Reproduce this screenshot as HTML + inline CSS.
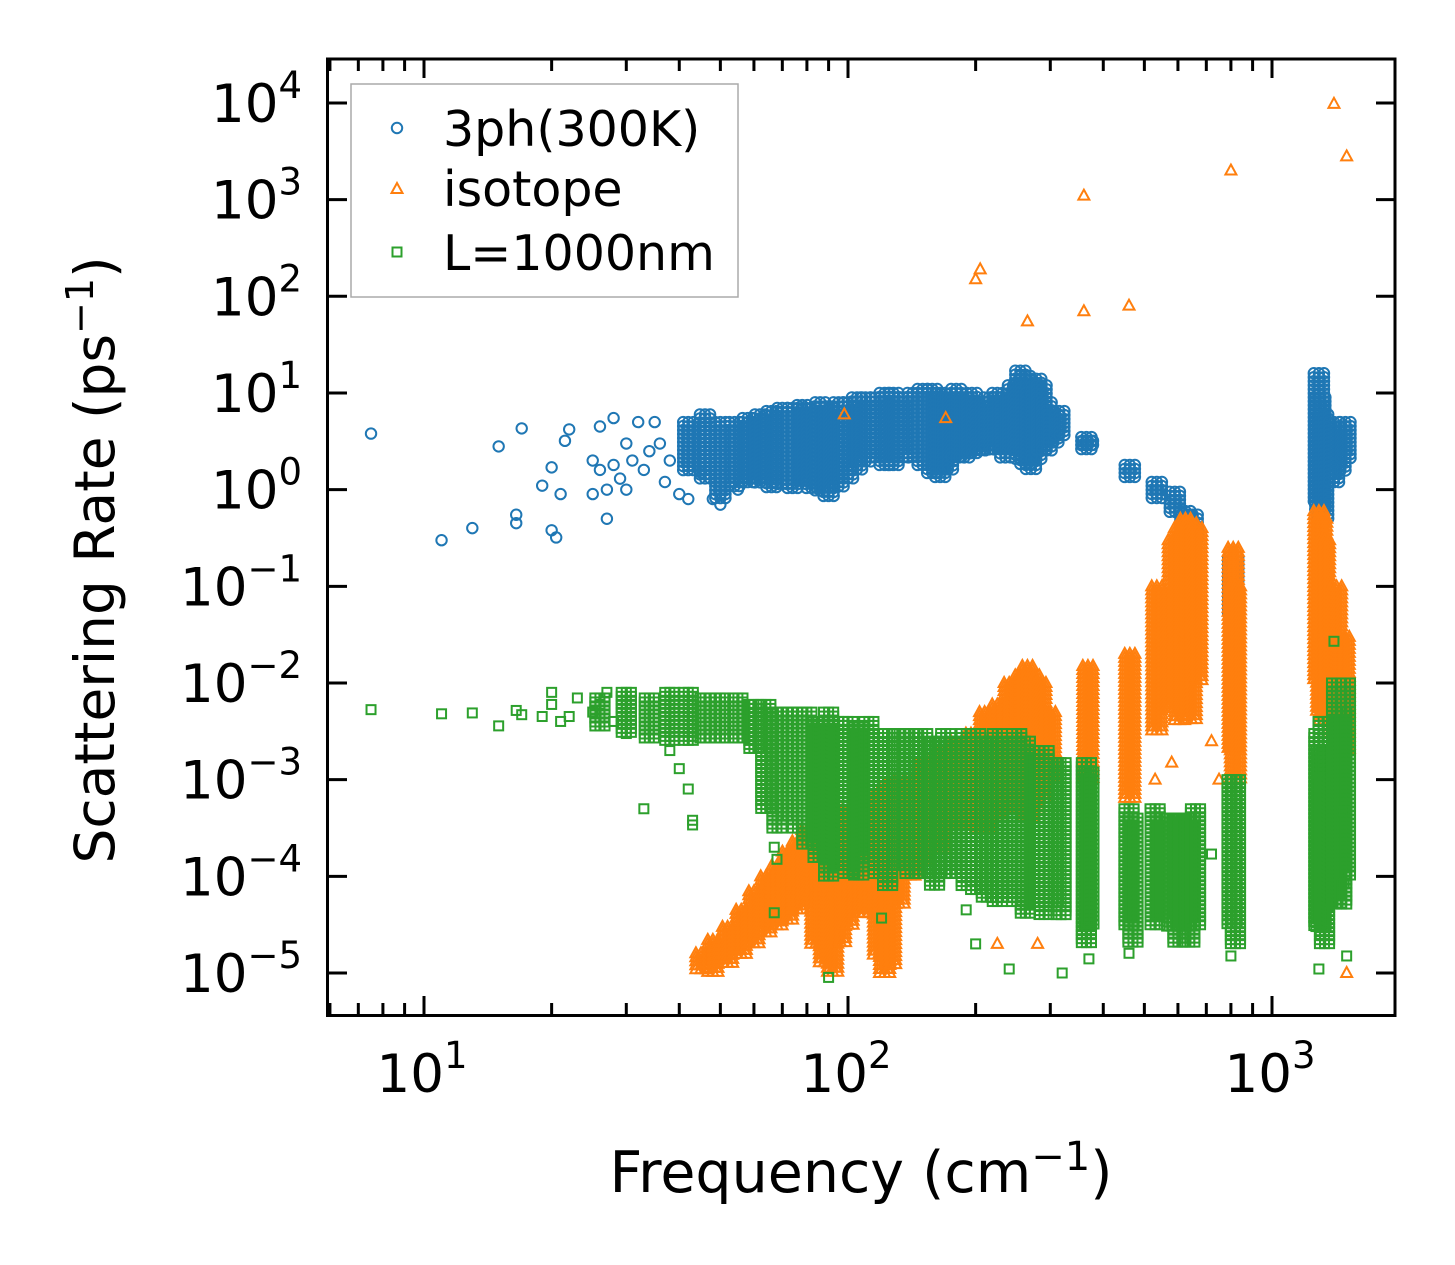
<!DOCTYPE html>
<html><head><meta charset="utf-8"><style>
html,body{margin:0;padding:0;background:#fff}
svg{display:block}
text{font-family:"DejaVu Sans","Liberation Sans",sans-serif;fill:#000}
</style></head><body>
<svg id="chart" width="1455" height="1265" viewBox="0 0 1455 1265" xmlns="http://www.w3.org/2000/svg">
<g id="marks"></g>
<g id="axes"></g>
<rect x="327.5" y="59" width="1067.5" height="956.5" fill="none" stroke="#000" stroke-width="3"/>
<g>
<rect x="351" y="84" width="387" height="213" fill="#fff" fill-opacity="0.8" stroke="#aaa" stroke-width="1.5"/>
<circle cx="397" cy="128" r="5.2" fill="none" stroke="#1f77b4" stroke-width="2"/>
<text x="443" y="146" font-size="49">3ph(300K)</text>
<path d="M397,183 L402.5,193 L391.5,193 Z" fill="none" stroke="#ff7f0e" stroke-width="2"/>
<text x="443" y="206" font-size="49">isotope</text>
<rect x="392.5" y="247.5" width="9" height="9" fill="none" stroke="#2ca02c" stroke-width="2"/>
<text x="443" y="270" font-size="49">L=1000nm</text>
</g>
<text x="861" y="1192" font-size="57" text-anchor="middle">Frequency (cm<tspan dy="-22" font-size="40">−1</tspan><tspan dy="22">)</tspan></text>
<text transform="translate(114,560) rotate(-90)" font-size="55" text-anchor="middle">Scattering Rate (ps<tspan dy="-21" font-size="38">−1</tspan><tspan dy="21">)</tspan></text>
</svg>
<script>
// ---- data ----
const blueF=[7.5,11,13,15,16.5,16.5,17,19,20,20,20.5,21,21.5,22,25,25,26,26,27,27,28,28,29,30,30,31,32,33,34,35,36,37,38,40,42,45,48,50,55];
const blueV=[3.8,0.3,0.4,2.8,0.55,0.45,4.3,1.1,1.7,0.38,0.32,0.9,3.2,4.2,0.9,2,1.6,4.5,1,0.5,5.5,1.8,1.3,3,1,2,5,1.6,2.5,5,3,1.2,2,0.9,0.8,1.5,0.8,0.7,1];
const blueBandF=[42,46,50,54,58,62,66,70,74,78,82,86,90,95,100,105,110,116,122,128,135,142,150,158,165,172,180,188,196,205,215,225,235,245,255,262,270,278,286,294,305,315,365,368,462,535,590,625,650,810,1290,1300,1320,1400,1450,1490];
const blueBandLo=[1.5,1.2,0.8,1,1.2,1.1,1,1.1,1,1.2,1,0.9,0.85,1,1.3,1.5,1.8,2,1.8,1.8,2,2,1.8,1.4,1.3,1.5,2,2,2.2,2.5,2.5,2.5,2,2.5,2,1.8,1.6,2,2.5,2.5,3,3.5,2.5,2.7,1.3,0.8,0.55,0.35,0.3,0.05,0.7,0.6,0.5,1.2,1.5,2];
const blueBandHi=[5,6,5,5,5.5,6,6.5,7,7,7.5,7,8,7,8,8,9,9,9,10,10,9,10,11,11,10,9,11,9,10,8,9,10,9,12,17,15,10,14,12,8,6,6.5,3.5,3.2,1.8,1.2,0.95,0.6,0.55,0.2,16,9,6,5,4.5,5];

const orangeF=[98,170,200,205,265,360,360,460,800,1400,1500,1500,460,530,720,750,580,225,280];
const orangeV=[6,5.5,150,190,55,70,1100,80,2000,9800,2800,1e-5,1e-3,1e-3,2.5e-3,1e-3,1.5e-3,2e-5,2e-5];
const orangeBandF=[45,48,52,56,60,64,68,72,76,80,84,88,92,96,100,106,112,118,122,126,132,140,150,165,180,195,210,225,240,255,265,275,285,300,368,462,535,585,605,625,645,665,810,820,1290,1310,1330,1420,1480];
const orangeBandLo=[1e-5,1e-5,1.2e-5,1.5e-5,2e-5,2.5e-5,3e-5,3.5e-5,4.5e-5,5e-5,2e-5,1.2e-5,1e-5,2e-5,3e-5,4e-5,4e-5,1.5e-5,1e-5,1.2e-5,5e-5,1e-4,1.5e-4,2e-4,3e-4,3e-4,3e-4,4e-4,5e-4,5e-4,4e-4,5e-4,6e-4,1e-3,1e-3,6e-4,3e-3,5e-3,4e-3,5e-3,4e-3,1e-2,2e-3,1e-3,1e-2,5e-3,4e-3,3e-3,2e-3];
const orangeBandHi=[1.6e-5,2.2e-5,3e-5,4.5e-5,7e-5,1e-4,1.3e-4,1.8e-4,2.3e-4,3e-4,3.5e-4,3e-4,3.5e-4,4e-4,5e-4,5e-4,6e-4,7e-4,8e-4,9e-4,1e-3,1e-3,1.5e-3,2e-3,2.5e-3,3e-3,5e-3,6e-3,1e-2,1.2e-2,1.5e-2,1.2e-2,1e-2,5e-3,1.5e-2,2e-2,1e-1,0.3,0.4,0.5,0.45,0.4,0.25,0.1,0.6,0.5,0.3,0.1,0.03];

const greenF=[7.5,11,13,15,16.5,17,19,20,20,21,22,23,25,26,27,28,30,33,38,40,42,43,43,67,68,67,90,120,190,200,240,320,370,460,720,800,1290,1500,1480,1480,1400,1300];
const greenV=[5.3e-3,4.8e-3,4.9e-3,3.6e-3,5.2e-3,4.7e-3,4.5e-3,8e-3,6e-3,4e-3,4.5e-3,7e-3,5e-3,6e-3,8e-3,4e-3,3e-3,5e-4,2e-3,1.3e-3,8e-4,3.8e-4,3.4e-4,2e-4,1.5e-4,4.2e-5,9e-6,3.7e-5,4.5e-5,2e-5,1.1e-5,1e-5,1.4e-5,1.6e-5,1.7e-4,1.5e-5,1.1e-5,1.5e-5,8.5e-5,4.7e-4,2.7e-2,2.5e-5];
const greenBandF=[26,30,34,38,42,46,50,55,60,64,68,72,76,80,85,90,95,100,106,112,118,124,132,140,150,160,170,180,190,200,212,225,238,250,262,275,290,305,318,365,370,460,470,530,545,580,600,620,640,660,805,820,1290,1305,1320,1330,1420,1460,1490];
const greenBandLo=[3.5e-3,3e-3,2.5e-3,2.5e-3,2.5e-3,2.5e-3,2.5e-3,2.5e-3,2e-3,5e-4,3e-4,4e-4,3e-4,2e-4,1.5e-4,1e-4,1.2e-4,1e-4,1e-4,1.5e-4,1e-4,8e-5,1.2e-4,1e-4,1e-4,8e-5,1e-4,1e-4,8e-5,7e-5,6e-5,5e-5,6e-5,5e-5,4e-5,5e-5,4e-5,5e-5,4e-5,2e-5,3e-5,3e-5,2e-5,3e-5,4e-5,3e-5,2e-5,3e-5,2e-5,3e-5,3e-5,2e-5,3e-5,3e-5,5e-5,2e-5,5e-5,5e-5,1e-4];
const greenBandHi=[7e-3,8e-3,7e-3,8e-3,8e-3,7e-3,7e-3,7e-3,6e-3,6e-3,5e-3,5e-3,5e-3,5e-3,4e-3,5e-3,4e-3,4e-3,3.5e-3,4e-3,3e-3,3e-3,3e-3,3e-3,3e-3,2.5e-3,3e-3,2.5e-3,3e-3,3e-3,2.5e-3,3e-3,2.5e-3,3e-3,2.5e-3,2e-3,2e-3,1.5e-3,1.5e-3,1.5e-3,1.2e-3,5e-4,4e-4,5e-4,4e-4,4e-4,4e-4,4e-4,4e-4,5e-4,1e-3,1e-3,3e-3,2e-3,4e-3,1e-3,1e-2,5e-3,1e-2];

const xTicks=[10,100,1000];
const xTickExp=["1","2","3"];
const yTicks=[1e4,1e3,1e2,1e1,1e0,1e-1,1e-2,1e-3,1e-4,1e-5];
const yTickExp=["4","3","2","1","0","−1","−2","−3","−4","−5"];

// ---- scales ----
const NS="http://www.w3.org/2000/svg";
function X(f){return 424+424*Math.log10(f/10);}
function Y(v){return 973-96.67*(Math.log10(v)+5);}
const marks=document.getElementById('marks');
const axes=document.getElementById('axes');
function mk(tag,attrs,parent){const e=document.createElementNS(NS,tag);for(const k in attrs)e.setAttribute(k,attrs[k]);parent.appendChild(e);return e;}

function marker(kind,f,v,parent){
  const x=X(f),y=Y(v);let e;
  if(kind==='c'){e=mk('circle',{cx:x,cy:y,r:5.2,fill:'none',stroke:'#1f77b4','stroke-width':2},parent);}
  else if(kind==='t'){e=mk('path',{d:`M${x},${y-6} L${x+5.5},${y+4} L${x-5.5},${y+4} Z`,fill:'none',stroke:'#ff7f0e','stroke-width':2},parent);}
  else{e=mk('rect',{x:x-4.5,y:y-4.5,width:9,height:9,fill:'none',stroke:'#2ca02c','stroke-width':2},parent);}
  return e;
}
function series(name,kind,F,V,BF,BL,BH){
  const g=mk('g',{},marks);
  
  
  for(let i=0;i<BF.length;i++){
    for(let dx=-1;dx<=1;dx++){
      const f=BF[i]*Math.pow(10,dx*0.012);
      const y0=Y(BH[i]),y1=Y(BL[i]);
      for(let y=y0;y<=y1+0.1;y+=4){
        const v=Math.pow(10,(973-y)/96.67-5);
        const m=marker(kind,f,v,g);
        
        
      }
    }
  }
  for(let i=0;i<F.length;i++){
    const m=marker(kind,F[i],V[i],g);
    
    
  }
}
series('series-3ph','c',blueF,blueV,blueBandF,blueBandLo,blueBandHi);
series('series-isotope','t',orangeF,orangeV,orangeBandF,orangeBandLo,orangeBandHi);
series('series-boundary','s',greenF,greenV,greenBandF,greenBandLo,greenBandHi);

// ---- axes ----
for(let d=0;d<=3;d++){
  for(let m=1;m<=9;m++){
    const f=Math.pow(10,d)*m;const x=X(f);
    if(x<328||x>1394)continue;
    const L=(m===1)?19:12;
    const t1=mk('line',{x1:x,x2:x,y1:1015,y2:1015-L,stroke:'#000','stroke-width':3},axes);
    
    
    const t2=mk('line',{x1:x,x2:x,y1:59,y2:59+L,stroke:'#000','stroke-width':3},axes);
    
    
  }
}
xTicks.forEach((f,i)=>{
  const t=mk('text',{x:X(f)-2,y:1092,'font-size':53,'text-anchor':'middle'},axes);
  
  
  t.innerHTML='10<tspan dy="-24" font-size="37">'+xTickExp[i]+'</tspan>';
});
yTicks.forEach((v,i)=>{
  const y=Y(v);
  const a=mk('line',{x1:328,x2:347,y1:y,y2:y,stroke:'#000','stroke-width':3},axes);
  
  
  const b=mk('line',{x1:1376,x2:1395,y1:y,y2:y,stroke:'#000','stroke-width':3},axes);
  
  
  const t=mk('text',{x:302,y:y+19,'font-size':53,'text-anchor':'end'},axes);
  
  
  t.innerHTML='10<tspan dy="-24" font-size="37">'+yTickExp[i]+'</tspan>';
});
</script>
</body></html>
